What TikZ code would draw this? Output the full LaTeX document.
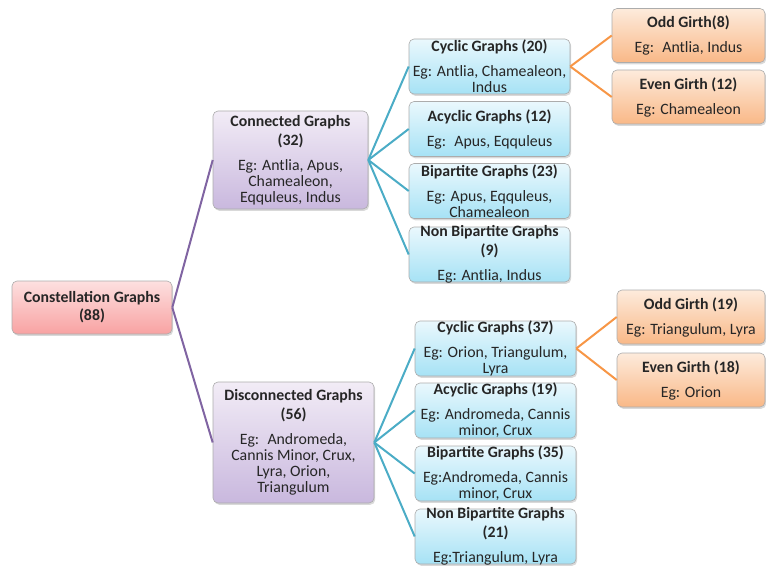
\documentclass[tikz,border=0pt]{standalone}
\usepackage{fontspec}
\setmainfont{Carlito}
\usepackage{tikz}
\usetikzlibrary{shadows,positioning}

\definecolor{roottop}{HTML}{FDE0E0}
\definecolor{rootbot}{HTML}{F8A2A2}
\definecolor{purptop}{HTML}{F2ECF6}
\definecolor{purpbot}{HTML}{C9B8DE}
\definecolor{bluetop}{HTML}{EAF8FD}
\definecolor{bluebot}{HTML}{A6E2F5}
\definecolor{orantop}{HTML}{FDEBDC}
\definecolor{oranbot}{HTML}{F9B887}
\definecolor{purpline}{HTML}{8064A2}
\definecolor{blueline}{HTML}{4BACC6}
\definecolor{oranline}{HTML}{F79646}

\begin{document}
\begin{tikzpicture}[x=1pt,y=-1pt]
  \tikzset{
    box/.style={draw=gray!65, line width=0.6pt, rounded corners=5pt, inner sep=0pt,
      drop shadow={opacity=0.3, shadow xshift=1.2pt, shadow yshift=-1.8pt}},
    rootbox/.style={box, top color=roottop, bottom color=rootbot,
      minimum width=160pt, minimum height=53pt},
    purpbox/.style={box, top color=purptop, bottom color=purpbot, minimum width=#1},
    bluebox/.style={box, top color=bluetop, bottom color=bluebot,
      minimum width=161pt, minimum height=55pt},
    oranbox/.style={box, top color=orantop, bottom color=oranbot,
      minimum width=#1, minimum height=54pt},
    txt/.style={align=center, inner sep=0pt, text=black!85,
      font=\fontsize{15.8}{16}\selectfont},
    link/.style={line width=2pt},
  }
  \useasboundingbox (0,0) rectangle (766,567);
  \clip (0,0) rectangle (766,567);

  % boxes
  \node[rootbox] (root) at (92,307.5) {};
  \node[purpbox=155pt, minimum height=98pt] (conn) at (290.5,160) {};
  \node[purpbox=161pt, minimum height=121pt] (disc) at (293.5,442.5) {};

  \node[bluebox] (cyc1) at (489.5,66.5) {};
  \node[bluebox] (acy1) at (489.5,129) {};
  \node[bluebox] (bip1) at (489.5,191) {};
  \node[bluebox] (non1) at (489.5,254.5) {};

  \node[bluebox] (cyc2) at (495.5,348.5) {};
  \node[bluebox] (acy2) at (495.5,410.5) {};
  \node[bluebox] (bip2) at (495.5,473.5) {};
  \node[bluebox] (non2) at (495.5,536.5) {};

  \node[oranbox=153pt] (odd1) at (688.5,35.5) {};
  \node[oranbox=153pt] (even1) at (688.5,97) {};
  \node[oranbox=148pt] (odd2) at (691,317) {};
  \node[oranbox=148pt] (even2) at (691,380) {};

  % texts
  \node[txt] (roott) at (root.center) {\textbf{Constellation Graphs}\\[2pt] \textbf{(88)}};
  \node[txt] (connt) at (conn.center) {\textbf{Connected Graphs}\\[3pt] \textbf{(32)}\\[9pt]
    Eg: Antlia, Apus,\\ Chamealeon,\\ Eqquleus, Indus};
  \node[txt] (disct) at (disc.center) {\textbf{Disconnected Graphs}\\[3pt] \textbf{(56)}\\[9pt]
    Eg:~ Andromeda,\\ Cannis Minor, Crux,\\ Lyra, Orion,\\ Triangulum};

  \node[txt] (cyc1t) at (cyc1.center) {\textbf{Cyclic Graphs (20)}\\[9pt]
    Eg: Antlia, Chamealeon,\\ Indus};
  \node[txt] (acy1t) at (acy1.center) {\textbf{Acyclic Graphs (12)}\\[9pt] Eg:~ Apus, Eqquleus};
  \node[txt] (bip1t) at (bip1.center) {\textbf{Bipartite Graphs (23)}\\[9pt]
    Eg: Apus, Eqquleus,\\ Chamealeon};
  \node[txt] (non1t) at (non1.center) {\textbf{Non Bipartite Graphs}\\[3pt] \textbf{(9)}\\[9pt]
    Eg: Antlia, Indus};

  \node[txt] (cyc2t) at (cyc2.center) {\textbf{Cyclic Graphs (37)}\\[9pt]
    Eg: Orion, Triangulum,\\ Lyra};
  \node[txt] (acy2t) at (acy2.center) {\textbf{Acyclic Graphs (19)}\\[9pt]
    Eg: Andromeda, Cannis\\ minor, Crux};
  \node[txt] (bip2t) at (bip2.center) {\textbf{Bipartite Graphs (35)}\\[9pt]
    Eg:Andromeda, Cannis\\ minor, Crux};
  \node[txt] (non2t) at (non2.center) {\textbf{Non Bipartite Graphs}\\[3pt] \textbf{(21)}\\[9pt]
    Eg:Triangulum, Lyra};

  \node[txt] (odd1t) at (odd1.center) {\textbf{Odd Girth(8)}\\[9pt] Eg:~ Antlia, Indus};
  \node[txt] (even1t) at (even1.center) {\textbf{Even Girth (12)}\\[9pt] Eg: Chamealeon};
  \node[txt] (odd2t) at (odd2.center) {\textbf{Odd Girth (19)}\\[9pt] Eg: Triangulum, Lyra};
  \node[txt] (even2t) at (even2.center) {\textbf{Even Girth (18)}\\[9pt] Eg: Orion};

  % connectors
  \draw[link, purpline] (root.east) -- (conn.west);
  \draw[link, purpline] (root.east) -- (disc.west);
  \foreach \c in {cyc1,acy1,bip1,non1}
    \draw[link, blueline] (conn.east) -- (\c.west);
  \foreach \c in {cyc2,acy2,bip2,non2}
    \draw[link, blueline] (disc.east) -- (\c.west);
  \draw[link, oranline] (cyc1.east) -- (odd1.west);
  \draw[link, oranline] (cyc1.east) -- (even1.west);
  \draw[link, oranline] (cyc2.east) -- (odd2.west);
  \draw[link, oranline] (cyc2.east) -- (even2.west);
\end{tikzpicture}
\end{document}
